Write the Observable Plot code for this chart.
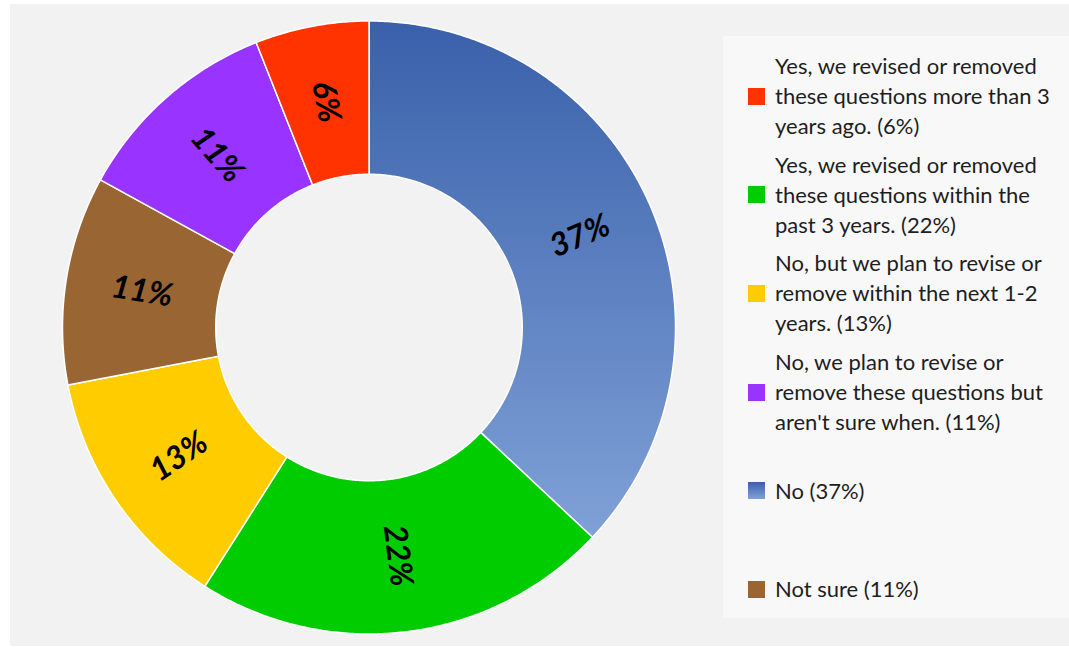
<!DOCTYPE html>
<html><head><meta charset="utf-8">
<script src="https://cdn.jsdelivr.net/npm/d3@7"></script>
<script src="https://cdn.jsdelivr.net/npm/@observablehq/plot@0.6"></script>
<style>
html,body{margin:0;padding:0;background:#fff;}
#wrap{position:relative;width:1069px;height:647px;overflow:hidden;background:#fff;font-family:Lato,"Open Sans",sans-serif;}
#bg{position:absolute;left:10px;top:4px;right:0;bottom:1px;background:#f2f2f2;}
#chart{position:absolute;left:0;top:0;}
#legend{position:absolute;left:723px;top:36px;width:346px;height:582px;background:#f8f8f8;box-sizing:border-box;padding-top:11px;}
.item{height:98.6px;display:flex;align-items:center;}
.sw{width:17px;height:17px;margin-left:25px;margin-right:10px;flex:none;}
.lb{font-size:22px;line-height:30px;color:#1e1e1e;white-space:pre;}
</style></head>
<body>
<div id="wrap"><div id="bg"></div><div id="chart"></div><div id="legend"></div></div>
<script>
// Slices, clockwise from 12 o'clock
const sliceNames = [
  "No (37%)",
  "Yes, we revised or removed these questions within the past 3 years. (22%)",
  "No, but we plan to revise or remove within the next 1-2 years. (13%)",
  "Not sure (11%)",
  "No, we plan to revise or remove these questions but aren't sure when. (11%)",
  "Yes, we revised or removed these questions more than 3 years ago. (6%)"
];
const sliceValues = [37, 22, 13, 11, 11, 6];
const sliceColors = ["url(#blueGrad)", "#00cc00", "#ffcc00", "#996633", "#9933ff", "#ff3300"];
const blueGradStops = ["#3960aa", "#80a1d7"];
// Legend order (indices into slices) and wrapped legend texts
const legendOrder = [5, 1, 2, 4, 0, 3];
const legendLabels = [
  "Yes, we revised or removed\nthese questions more than 3\nyears ago. (6%)",
  "Yes, we revised or removed\nthese questions within the\npast 3 years. (22%)",
  "No, but we plan to revise or\nremove within the next 1-2\nyears. (13%)",
  "No, we plan to revise or\nremove these questions but\naren't sure when. (11%)",
  "No (37%)",
  "Not sure (11%)"
];

const total = d3.sum(sliceValues);
let acc = 0;
const slices = sliceValues.map((v, i) => {
  const a0 = acc / total * 2 * Math.PI; acc += v;
  const a1 = acc / total * 2 * Math.PI;
  return {i, name: sliceNames[i], value: v, a0, a1};
});
const R_IN = 0.5;
const pts = [];
for (const s of slices) {
  const n = Math.max(8, Math.ceil((s.a1 - s.a0) / (Math.PI / 360)));
  const ring = [];
  for (let k = 0; k <= n; k++) { const a = s.a0 + (s.a1 - s.a0) * k / n; ring.push([Math.sin(a), Math.cos(a)]); }
  for (let k = n; k >= 0; k--) { const a = s.a0 + (s.a1 - s.a0) * k / n; ring.push([R_IN * Math.sin(a), R_IN * Math.cos(a)]); }
  ring.push(ring[0]);
  for (const [x, y] of ring) pts.push({key: s.name, fill: sliceColors[s.i], x, y});
}
const labels = slices.map(s => {
  const m = (s.a0 + s.a1) / 2;
  const deg = m * 180 / Math.PI;
  let r = (deg + 90) % 360;
  if (r > 90 && r < 270) r -= 180; else if (r >= 270) r -= 360;
  return {x: 0.75 * Math.sin(m), y: 0.75 * Math.cos(m), text: s.value + "%", rotate: r};
});

const W = 720, H = 647, CX = 368.5, CY = 327, R = 306.5;
const svg = Plot.plot({
  width: W, height: H, margin: 0,
  x: {domain: [-CX / R, (W - CX) / R], axis: null},
  y: {domain: [(CY - H) / R, CY / R], axis: null},
  color: {type: "identity"},
  style: {background: "transparent", overflow: "visible"},
  marks: [
    Plot.line(pts, {x: "x", y: "y", z: "key", fill: "fill", stroke: "white", strokeWidth: 1.5, curve: "linear"}),
    Plot.text(labels, {x: "x", y: "y", text: "text", rotate: "rotate", fontSize: 32, fontWeight: "bold", fontStyle: "italic", fontFamily: "Lato", fill: "black"})
  ]
});
const ns = "http://www.w3.org/2000/svg";
const defs = document.createElementNS(ns, "defs");
const grad = document.createElementNS(ns, "linearGradient");
grad.setAttribute("id", "blueGrad");
grad.setAttribute("x1", "0"); grad.setAttribute("y1", "0"); grad.setAttribute("x2", "0"); grad.setAttribute("y2", "1");
blueGradStops.forEach((c, k) => {
  const st = document.createElementNS(ns, "stop");
  st.setAttribute("offset", k / (blueGradStops.length - 1));
  st.setAttribute("stop-color", c);
  grad.appendChild(st);
});
defs.appendChild(grad);
svg.insertBefore(defs, svg.firstChild);
document.getElementById("chart").appendChild(svg);

const legend = document.getElementById("legend");
legendOrder.forEach((idx, j) => {
  const item = document.createElement("div"); item.className = "item";
  const sw = document.createElement("div"); sw.className = "sw";
  const c = sliceColors[idx];
  sw.style.background = c.startsWith("url") ? `linear-gradient(${blueGradStops.join(",")})` : c;
  const lb = document.createElement("div"); lb.className = "lb"; lb.textContent = legendLabels[j];
  item.appendChild(sw); item.appendChild(lb); legend.appendChild(item);
});
</script>
</body></html>
